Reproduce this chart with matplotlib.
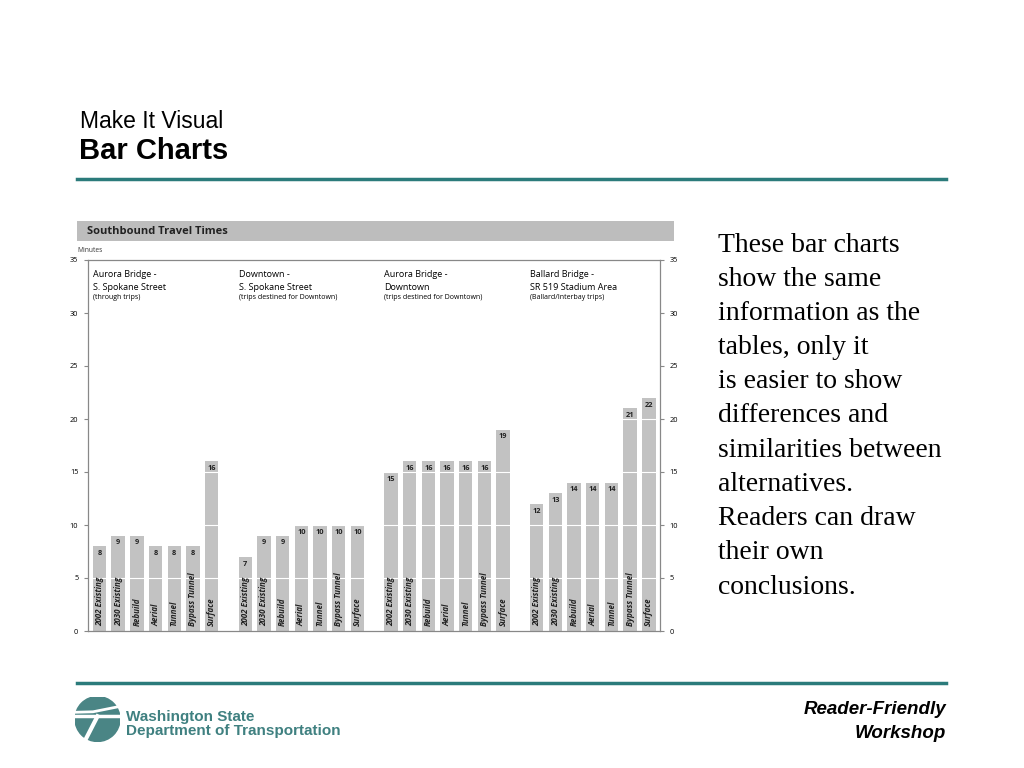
import numpy as np
import matplotlib.pyplot as plt
from matplotlib.patches import Rectangle, Circle

# data
alternatives = ['2002 Existing', '2030 Existing', 'Rebuild', 'Aerial', 'Tunnel', 'Bypass Tunnel', 'Surface']
group_titles = [('Aurora Bridge -', 'S. Spokane Street', '(through trips)'),
                ('Downtown -', 'S. Spokane Street', '(trips destined for Downtown)'),
                ('Aurora Bridge -', 'Downtown', '(trips destined for Downtown)'),
                ('Ballard Bridge -', 'SR 519 Stadium Area', '(Ballard/Interbay trips)')]
aurora_spokane = [8, 9, 9, 8, 8, 8, 16]
downtown_spokane = [7, 9, 9, 10, 10, 10, 10]
aurora_downtown = [15, 16, 16, 16, 16, 16, 19]
ballard_stadium = [12, 13, 14, 14, 14, 21, 22]
groups = [aurora_spokane, downtown_spokane, aurora_downtown, ballard_stadium]
yticks = [0, 5, 10, 15, 20, 25, 30, 35]

body_lines = ['These bar charts', 'show the same', 'information as the', 'tables, only it',
              'is easier to show', 'differences and', 'similarities between', 'alternatives.',
              'Readers can draw', 'their own', 'conclusions.']

teal = '#2b7b7b'
bar_col = '#c2c2c2'
W, H = 1024, 768

fig = plt.figure(figsize=(10.24, 7.68), dpi=100)

def fx(px):
    return px / W

def fy(py):
    return 1 - py / H

# slide heading
fig.text(fx(80), fy(121), 'Make It Visual', fontsize=16.5, family='Liberation Sans',
         va='center', ha='left')
fig.text(fx(79), fy(151), 'Bar Charts', fontsize=21, fontweight='bold',
         family='Liberation Sans', va='center', ha='left')
fig.add_artist(plt.Line2D([fx(77), fx(946)], [fy(179), fy(179)], color=teal, lw=2.5))
fig.add_artist(plt.Line2D([fx(77), fx(946)], [fy(683), fy(683)], color=teal, lw=2.5))

# chart title band
fig.add_artist(Rectangle((fx(77), fy(241)), fx(674) - fx(77), fy(221) - fy(241),
                         facecolor='#bdbdbd', edgecolor='none'))
fig.text(fx(87), fy(232), 'Southbound Travel Times', fontsize=8, fontweight='bold',
         family='Open Sans', va='center', ha='left', color='#222222')
fig.text(fx(77), fy(250), 'Minutes', fontsize=4.8, family='Open Sans', va='center', color='#333333')

# chart
ax = fig.add_axes([fx(88), fy(631), fx(660) - fx(88), fy(260) - fy(631)])
step = 7.8
for g, vals in enumerate(groups):
    xs = g * step + np.arange(len(vals))
    ax.bar(xs, vals, width=0.72, color=bar_col, zorder=1)
    for x, v, lab in zip(xs, vals, alternatives):
        ax.text(x, v - 0.35, str(v), ha='center', va='top', fontsize=5.3, fontweight='bold',
                family='Open Sans', color='#222222', zorder=3)
        ax.text(x, 0.45, lab, rotation=90, ha='center', va='bottom', fontsize=5.8,
                fontweight='bold', style='italic', family='Open Sans', color='#222222', zorder=3)
    t1, t2, t3 = group_titles[g]
    x0 = g * step - 0.36
    ax.text(x0, 33.6, t1, fontsize=6.5, family='Open Sans', va='center', ha='left')
    ax.text(x0, 32.4, t2, fontsize=6.5, family='Open Sans', va='center', ha='left')
    ax.text(x0, 31.5, t3, fontsize=5, family='Open Sans', va='center', ha='left')

# white gridlines through bars
for yv in [5, 10, 15, 20]:
    ax.axhline(yv, color='white', lw=0.8, zorder=2)

ax.set_xlim(-0.616, 30.0)
ax.set_ylim(0, 35)
ax.set_xticks([])
ax.set_yticks(yticks)
ax.tick_params(axis='y', length=3, width=0.8, color='#888888', labelsize=5.3, pad=4,
               left=True, right=True, labelleft=True, labelright=True)
for lab in ax.get_yticklabels():
    lab.set_family('Open Sans')
for s in ax.spines.values():
    s.set_color('#888888')
    s.set_linewidth(0.9)

# body text
for i, line in enumerate(body_lines):
    fig.text(fx(718), fy(245 + i * 34.2), line, fontsize=20, family='Liberation Serif',
             va='center', ha='left')

# logo
lax = fig.add_axes([fx(75), fy(742), fx(120) - fx(75), fy(696) - fy(742)])
lax.set_xlim(-1, 1)
lax.set_ylim(-1, 1)
lax.set_aspect('equal')
lax.axis('off')
lax.add_patch(Circle((0, 0), 1, color='#4a8585'))
lax.plot([-1, 1], [0.12, 0.12], color='white', lw=2.5)
lax.plot([-0.95, -0.2, 0.95], [0.3, 0.32, 0.55], color='white', lw=2.0)
lax.plot([0.0, -0.55], [0.12, -0.95], color='white', lw=3)
fig.text(fx(126), fy(717), 'Washington State', fontsize=11, fontweight='bold',
         family='Liberation Sans', color='#3f8080', va='center')
fig.text(fx(126), fy(731), 'Department of Transportation', fontsize=11, fontweight='bold',
         family='Liberation Sans', color='#3f8080', va='center')

fig.text(fx(946), fy(709), 'Reader-Friendly', fontsize=13.5, fontweight='bold', style='italic',
         family='Liberation Sans', ha='right', va='center')
fig.text(fx(946), fy(733), 'Workshop', fontsize=13.5, fontweight='bold', style='italic',
         family='Liberation Sans', ha='right', va='center')

fig.savefig('out.png', dpi=100)
